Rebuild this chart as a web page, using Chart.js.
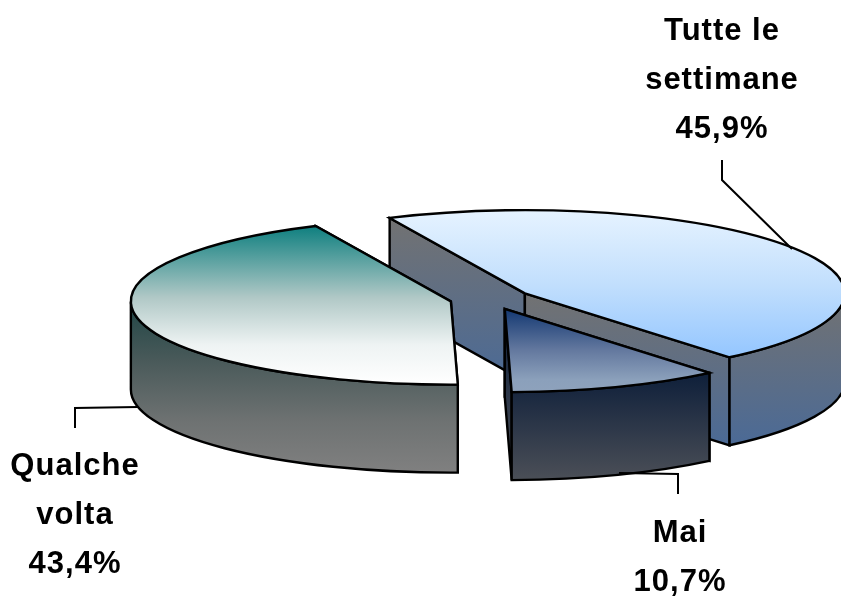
<!DOCTYPE html>
<html>
<head>
<meta charset="utf-8">
<style>html,body{margin:0;padding:0;background:#fff}canvas{display:block}</style>
<script src="https://cdn.jsdelivr.net/npm/chart.js@4"></script>
</head>
<body>
<canvas id="c" width="841" height="597"></canvas>
<script>
const categories = ['Tutte le settimane', 'Mai', 'Qualche volta'];
const values = [45.9, 10.7, 43.4];
const labelLines = [['Tutte le', 'settimane'], ['Mai'], ['Qualche', 'volta']];

const topStops = [
  [[0, '#e6f3ff'], [0.5, '#c2dffd'], [1, '#94c6ff']],
  [[0, '#133872'], [0.5, '#64799f'], [0.85, '#8ba0bb'], [1, '#8ea2bc']],
  [[0, '#0e7f7f'], [0.45, '#b0c8c6'], [0.75, '#eef3f3'], [1, '#ffffff']]
];
const wallStops = [
  [[0, '#727272'], [1, '#4b6a96']],
  [[0, '#0e1f3a'], [1, '#4b4f57']],
  [[0, '#1f4545'], [0.35, '#4a5a5a'], [0.7, '#6e7272'], [1, '#808080']]
];

const SQUASH = 0.26, DEPTH = 88, OFFSET = 40.7, LINE_HEIGHT = 49;
const FONT = 'bold 31px "Liberation Sans"';
const LETTER_SPACING = '1px';
const labelCenters = [[722, 40], [680, 542], [75, 475]];
const leaders = [
  [[722, 160], [722, 180], [792, 249]],
  [[678, 494], [678, 474], [619, 473]],
  [[75, 428], [75, 408], [138, 407]]
];

function grad(ctx, y0, y1, stops) {
  const g = ctx.createLinearGradient(0, y0, 0, y1);
  stops.forEach(s => g.addColorStop(s[0], s[1]));
  return g;
}
function finish(ctx, fill) {
  ctx.fillStyle = fill;
  ctx.fill();
  ctx.stroke();
}
function drawSlice(ctx, arc, i) {
  const R = arc.outerRadius, ry = R * SQUASH;
  const a = arc.startAngle, b = arc.endAngle, mid = (a + b) / 2;
  const off = arc.options.offset;
  const ax = arc.x + Math.cos(mid) * off, ay = arc.y + Math.sin(mid) * off * SQUASH;
  const pt = t => [ax + Math.cos(t) * R, ay + Math.sin(t) * ry];
  const stops = wallStops[i];

  [a, b].forEach(t => {
    const p = pt(t);
    ctx.beginPath();
    ctx.moveTo(ax, ay);
    ctx.lineTo(p[0], p[1]);
    ctx.lineTo(p[0], p[1] + DEPTH);
    ctx.lineTo(ax, ay + DEPTH);
    ctx.closePath();
    finish(ctx, grad(ctx, Math.min(ay, p[1]), Math.max(ay, p[1]) + DEPTH, stops));
  });

  const TAU = Math.PI * 2;
  for (let k = -1; k <= 1; k++) {
    const s = Math.max(a, k * TAU), e = Math.min(b, k * TAU + Math.PI);
    if (e <= s) continue;
    const ps = pt(s), pe = pt(e);
    ctx.beginPath();
    ctx.ellipse(ax, ay, R, ry, 0, s, e, false);
    ctx.lineTo(pe[0], pe[1] + DEPTH);
    ctx.ellipse(ax, ay + DEPTH, R, ry, 0, e, s, true);
    ctx.closePath();
    const top = Math.min(ps[1], pe[1]);
    const bottom = ((s <= k * TAU + Math.PI / 2 && e >= k * TAU + Math.PI / 2) ? ay + ry : Math.max(ps[1], pe[1])) + DEPTH;
    finish(ctx, grad(ctx, top, bottom, stops));
  }

  const pa = pt(a), pb = pt(b);
  const hasBottom = a <= Math.PI / 2 && b >= Math.PI / 2;
  const hasTop = a <= -Math.PI / 2 && b >= -Math.PI / 2;
  const yTop = hasTop ? ay - ry : Math.min(ay, pa[1], pb[1]);
  const yBot = hasBottom ? ay + ry : Math.max(ay, pa[1], pb[1]);
  ctx.beginPath();
  ctx.moveTo(ax, ay);
  ctx.ellipse(ax, ay, R, ry, 0, a, b, false);
  ctx.closePath();
  finish(ctx, grad(ctx, yTop, yBot, topStops[i]));
}

const pie3d = {
  id: 'pie3d',
  beforeDatasetDraw(chart) {
    const ctx = chart.ctx;
    const arcs = chart.getDatasetMeta(0).data;
    const order = arcs.map((arc, i) => i).sort((p, q) =>
      Math.sin((arcs[p].startAngle + arcs[p].endAngle) / 2) -
      Math.sin((arcs[q].startAngle + arcs[q].endAngle) / 2));
    ctx.save();
    ctx.strokeStyle = '#000';
    ctx.lineWidth = 2.4;
    ctx.lineJoin = 'miter';
    order.forEach(i => drawSlice(ctx, arcs[i], i));
    ctx.restore();
    return false;
  },
  afterDraw(chart) {
    const ctx = chart.ctx;
    ctx.save();
    ctx.strokeStyle = '#000';
    ctx.lineWidth = 2;
    leaders.forEach(l => {
      ctx.beginPath();
      l.forEach((p, j) => j ? ctx.lineTo(p[0], p[1]) : ctx.moveTo(p[0], p[1]));
      ctx.stroke();
    });
    ctx.fillStyle = '#000';
    ctx.font = FONT;
    ctx.letterSpacing = LETTER_SPACING;
    ctx.textAlign = 'center';
    ctx.textBaseline = 'alphabetic';
    labelLines.forEach((lines, i) => {
      const all = lines.concat(values[i].toFixed(1).replace('.', ',') + '%');
      all.forEach((t, j) => ctx.fillText(t, labelCenters[i][0], labelCenters[i][1] + j * LINE_HEIGHT));
    });
    ctx.restore();
  }
};

new Chart(document.getElementById('c'), {
  type: 'pie',
  data: {
    labels: categories,
    datasets: [{
      data: values,
      backgroundColor: ['#c2dffd', '#64799f', '#b0c8c6'],
      borderColor: '#000',
      offset: OFFSET,
      clip: false
    }]
  },
  options: {
    responsive: false,
    animation: false,
    radius: 320,
    rotation: -25,
    layout: { padding: { left: 140, right: 0, top: 1, bottom: 0 } },
    plugins: { legend: { display: false }, tooltip: { enabled: false } }
  },
  plugins: [pie3d]
});
</script>
</body>
</html>
